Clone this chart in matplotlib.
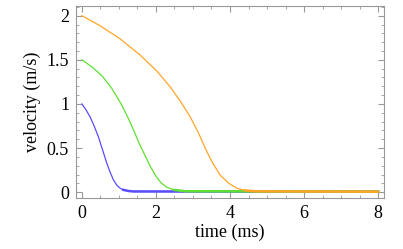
import numpy as np
import matplotlib.pyplot as plt
from matplotlib.ticker import MultipleLocator

plt.rcParams['font.family'] = ['Liberation Serif', 'DejaVu Serif']

# Data (time in ms, velocity in m/s)
t_blue = [0, 0.1, 0.22, 0.33, 0.44, 0.58, 0.67, 0.76, 0.85, 0.94, 1.03, 1.12, 1.25, 1.39, 8]
v_blue = [1.0, 0.94, 0.854, 0.75, 0.633, 0.45, 0.33, 0.228, 0.14, 0.081, 0.045, 0.026, 0.014, 0.008, 0.006]

t_green = [0, 0.3, 0.56, 0.8, 1.06, 1.25, 1.4, 1.55, 1.7, 1.85, 2.0, 2.15, 2.3, 2.5, 2.8, 8]
v_green = [1.5, 1.41, 1.31, 1.18, 1.0, 0.84, 0.70, 0.55, 0.42, 0.29, 0.18, 0.10, 0.055, 0.025, 0.01, 0.006]

t_orange = [0, 0.49, 1.03, 1.57, 2.03, 2.39, 2.66, 2.93, 3.15, 3.34, 3.52, 3.74,
            3.97, 4.19, 4.4, 4.7, 8]
v_orange = [2.0, 1.886, 1.738, 1.555, 1.37, 1.19, 1.03, 0.85, 0.67, 0.49, 0.34, 0.19,
            0.10, 0.044, 0.02, 0.009, 0.006]

series = [(t_blue, v_blue, '#5a4cff'),
          (t_green, v_green, '#5de030'),
          (t_orange, v_orange, '#ffa526')]

fig = plt.figure(figsize=(4.03, 2.49), dpi=100)
ax = fig.add_axes([76/403, 1 - 198/249, 308/403, 192/249])

for t, v, c in series:
    t = np.array(t)
    v = np.array(v)
    ax.plot(t, v, color=c, lw=0.9)
    tail = v < 0.03
    ax.plot(t[tail], v[tail], color=c, lw=1.8)

ax.set_xlim(-0.16, 8.16)
ax.set_ylim(-0.066, 2.11)
ax.xaxis.set_major_locator(MultipleLocator(2))
ax.xaxis.set_minor_locator(MultipleLocator(0.5))
ax.yaxis.set_major_locator(MultipleLocator(0.5))
ax.yaxis.set_minor_locator(MultipleLocator(0.1))
ax.set_yticks([0, 0.5, 1, 1.5, 2])
ax.set_yticklabels(['0', '0.5', '1', '1.5', '2'])

for s in ax.spines.values():
    s.set_color('#999999')
    s.set_linewidth(0.8)
ax.tick_params(which='both', direction='in', color='#999999', top=True, right=True,
               labelsize=13, pad=5)
ax.tick_params(which='major', length=4)
ax.tick_params(which='minor', length=2)

ax.set_xlabel('time (ms)', fontsize=13, labelpad=1)
ax.set_ylabel('velocity (m/s)', fontsize=13, labelpad=4)

fig.savefig('out.png', dpi=100)
